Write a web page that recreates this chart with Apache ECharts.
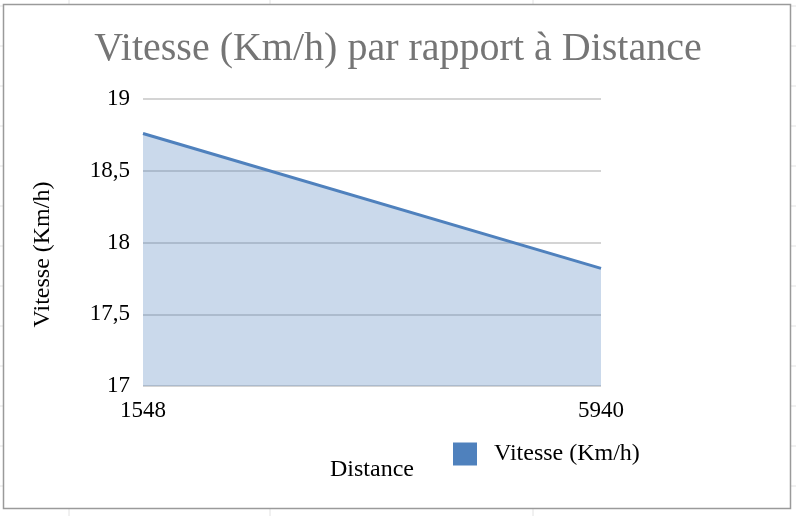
<!DOCTYPE html>
<html>
<head>
<meta charset="utf-8">
<script src="https://cdn.jsdelivr.net/npm/echarts@6/dist/echarts.min.js"></script>
<style>
  html, body { margin: 0; padding: 0; background: #fff; }
  #chart { width: 796px; height: 516px; }
</style>
</head>
<body>
<div id="chart"></div>
<script>
// données
const distances = ['1548', '5940'];
const vitesses = [18.76, 17.82];
const yTicks = [17, 17.5, 18, 18.5, 19];

const chart = echarts.init(document.getElementById('chart'));
const serif = 'Liberation Serif';

// lignes de la feuille de calcul derrière le graphique
const sheetLines = [];
[69, 270, 533].forEach((x) => {
  sheetLines.push({ type: 'line', shape: { x1: x, y1: 0, x2: x, y2: 516 }, style: { stroke: '#e2e2e2', lineWidth: 1 }, z: -10 });
});
for (let y = 6; y < 516; y += 40) {
  sheetLines.push({ type: 'line', shape: { x1: 0, y1: y, x2: 796, y2: y }, style: { stroke: '#e2e2e2', lineWidth: 1 }, z: -10 });
}

const option = {
  backgroundColor: '#fff',
  animation: false,
  graphic: [
    ...sheetLines,
    {
      type: 'rect',
      shape: { x: 3.5, y: 4.5, width: 787, height: 504 },
      style: { fill: '#fff', stroke: '#9a9a9a', lineWidth: 1.5 },
      z: -5,
    },
  ],
  title: {
    text: 'Vitesse (Km/h) par rapport à Distance',
    left: 'center',
    top: 24,
    textStyle: { fontFamily: serif, fontSize: 40, fontWeight: 'normal', color: '#757575' },
  },
  legend: {
    left: 448,
    top: 437,
    itemWidth: 24,
    itemHeight: 23,
    icon: 'rect',
    textStyle: { fontFamily: serif, fontSize: 24, color: '#000', padding: [0, 0, 0, 12] },
    data: [{ name: 'Vitesse (Km/h)', itemStyle: { color: '#4F81BD' } }],
  },
  grid: { left: 143, right: 195, top: 99, bottom: 130 },
  xAxis: {
    type: 'category',
    data: distances,
    boundaryGap: false,
    name: 'Distance',
    nameLocation: 'middle',
    nameGap: 72,
    nameTextStyle: { fontFamily: serif, fontSize: 24, color: '#000' },
    axisLine: { show: false },
    axisTick: { show: false },
    axisLabel: { fontFamily: serif, fontSize: 23, color: '#000', margin: 13 },
  },
  yAxis: {
    type: 'value',
    min: yTicks[0],
    max: yTicks[yTicks.length - 1],
    interval: 0.5,
    name: 'Vitesse (Km/h)',
    nameLocation: 'middle',
    nameGap: 88,
    nameTextStyle: { fontFamily: serif, fontSize: 24, color: '#000', padding: [0, 24, 0, 0] },
    axisLine: { show: false },
    axisTick: { show: false },
    axisLabel: {
      fontFamily: serif,
      fontSize: 23,
      color: '#000',
      margin: 13,
      formatter: (v) => String(v).replace('.', ','),
    },
    splitLine: { lineStyle: { color: '#c6c6c6', width: 1.5 } },
  },
  series: [
    {
      name: 'Vitesse (Km/h)',
      type: 'line',
      data: vitesses,
      symbol: 'none',
      lineStyle: { color: '#4F81BD', width: 3 },
      itemStyle: { color: '#4F81BD' },
      areaStyle: { color: '#4F81BD', opacity: 0.3 },
    },
  ],
};

chart.setOption(option);
</script>
</body>
</html>
